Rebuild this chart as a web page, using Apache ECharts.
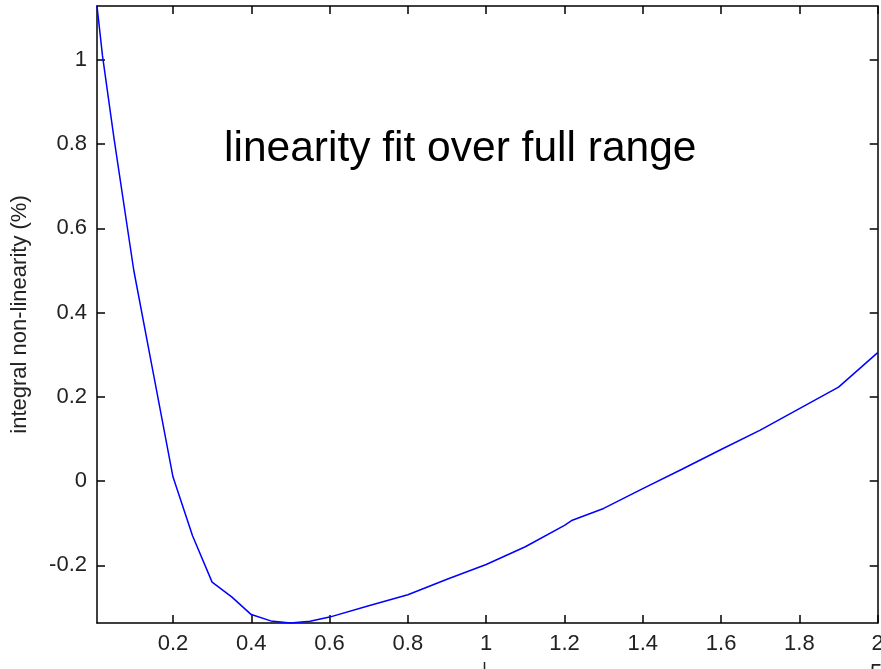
<!DOCTYPE html>
<html>
<head>
<meta charset="utf-8">
<title>integral non-linearity</title>
<script src="https://cdn.jsdelivr.net/npm/echarts@6/dist/echarts.min.js"></script>
<style>
    html, body { margin: 0; padding: 0; background: #fff; }
    #basic_line { width: 881px; height: 669px; }
</style>
</head>
<body>
<div id="basic_line"></div>
<script>
// Data
// ------------------------------

var input_x = [0.006, 0.02, 0.05, 0.1, 0.15, 0.2, 0.25, 0.3, 0.35, 0.4, 0.45, 0.5, 0.55, 0.6,
    0.7, 0.8, 0.9, 1.0, 1.1, 1.2, 1.22, 1.3, 1.4, 1.5, 1.6, 1.7, 1.8, 1.9, 2.0];
var nonlinearity = [1.128, 1.01, 0.81, 0.50, 0.255, 0.01, -0.13, -0.24, -0.275, -0.317, -0.332, -0.337, -0.333, -0.323,
    -0.296, -0.270, -0.233, -0.198, -0.156, -0.105, -0.093, -0.065, -0.018, 0.028, 0.075, 0.121, 0.172, 0.223, 0.305];

var x_ticks = [0.2, 0.4, 0.6, 0.8, 1, 1.2, 1.4, 1.6, 1.8, 2];
var y_ticks = [-0.2, 0, 0.2, 0.4, 0.6, 0.8, 1];

var points = [];
for (var i = 0; i < input_x.length; i++) {
    points.push([input_x[i], nonlinearity[i]]);
}

// Initialize chart
// ------------------------------

var basic_line = echarts.init(document.getElementById('basic_line'));

var font = '"Liberation Sans", Arial, Helvetica, sans-serif';

function frameAxis(position, ticks, showLabel) {
    return {
        type: 'value',
        position: position,
        axisLine: { show: true, onZero: false, lineStyle: { color: '#000', width: 1.5 } },
        axisTick: { show: true, inside: true, length: 8, customValues: ticks, lineStyle: { color: '#000', width: 1.5 } },
        axisLabel: {
            show: showLabel,
            customValues: ticks,
            fontFamily: font,
            fontSize: 22,
            color: '#222',
            margin: 10
        },
        splitLine: { show: false }
    };
}

var x_bottom = frameAxis('bottom', x_ticks, true);
x_bottom.min = 0.006;
x_bottom.max = 2;
var x_top = frameAxis('top', x_ticks, false);
x_top.min = 0.006;
x_top.max = 2;

var y_left = frameAxis('left', y_ticks, true);
y_left.min = -0.337;
y_left.max = 1.128;
y_left.name = 'integral non-linearity (%)';
y_left.nameLocation = 'middle';
y_left.nameRotate = 90;
y_left.nameGap = 66;
y_left.nameTextStyle = { fontFamily: font, fontSize: 22, color: '#222' };
var y_right = frameAxis('right', y_ticks, false);
y_right.min = -0.337;
y_right.max = 1.128;

var basic_line_options = {
    animation: false,
    backgroundColor: '#fff',
    grid: { left: 97, right: 3.3, top: 6, bottom: 46, outerBoundsMode: 'none', containLabel: false },
    xAxis: [x_bottom, x_top],
    yAxis: [y_left, y_right],

    // Annotation text
    graphic: [
        {
            type: 'text',
            left: 224,
            top: 128,
            style: { text: 'linearity fit over full range', fontFamily: font, fontSize: 42.5, fill: '#000' }
        },
        {
            type: 'text',
            left: 870,
            top: 662,
            style: { text: '5', fontFamily: font, fontSize: 22, fill: '#222' }
        },
        {
            type: 'line',
            shape: { x1: 484.5, y1: 662, x2: 484.5, y2: 669 },
            style: { stroke: '#222', lineWidth: 1.5 }
        }
    ],

    series: [{
        name: 'non-linearity',
        type: 'line',
        xAxisIndex: 0,
        yAxisIndex: 0,
        data: points,
        showSymbol: false,
        symbol: 'none',
        smooth: false,
        lineStyle: { color: '#0000ff', width: 1.5 }
    }]
};

basic_line.setOption(basic_line_options);
</script>
</body>
</html>
